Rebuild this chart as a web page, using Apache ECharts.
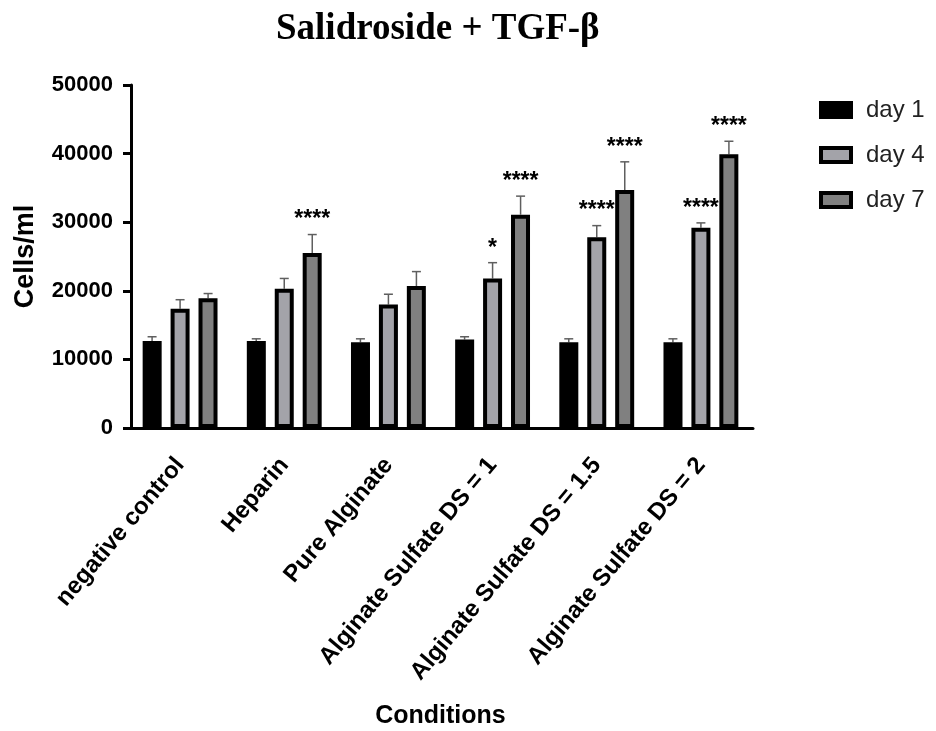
<!DOCTYPE html>
<html><head><meta charset="utf-8">
<script src="https://cdn.jsdelivr.net/npm/echarts@6/dist/echarts.min.js"></script>
<style>html,body{margin:0;padding:0;background:#fff}#c{width:936px;height:731px}</style>
</head><body><div id="c"></div>
<script>
const categories = ['negative control','Heparin','Pure Alginate','Alginate Sulfate DS = 1','Alginate Sulfate DS = 1.5','Alginate Sulfate DS = 2'];
const seriesNames = ['day 1','day 4','day 7'];
const day1 = [12700, 12700, 12500, 12900, 12500, 12500];
const day4 = [17400, 20300, 18000, 21800, 27800, 29200];
const day7 = [18900, 25500, 20700, 31100, 34700, 39900];
const day1Err = [13300, 13000, 13000, 13300, 13000, 13000];
const day4Err = [18700, 21800, 19500, 24100, 29500, 29900];
const day7Err = [19600, 28200, 22800, 33800, 38800, 41800];
const day4Stars = ['', '', '', '*', '****', '****'];
const day7Stars = ['', '****', '', '****', '****', '****'];
const yTicks = [0, 10000, 20000, 30000, 40000, 50000];

const values = [day1, day4, day7];
const errs = [day1Err, day4Err, day7Err];
const stars = [['','','','','',''], day4Stars, day7Stars];
const fills = ['#000000', '#a3a3a9', '#808080'];
const STEP = 28;

const chart = echarts.init(document.getElementById('c'));
const errData = [];
for (let s = 0; s < 3; s++) for (let i = 0; i < categories.length; i++) errData.push([i, values[s][i], errs[s][i], s, stars[s][i]]);

const bars = seriesNames.map((n, s) => ({
  name: n, type: 'bar', data: values[s], barWidth: 19, barGap: '47%',
  itemStyle: { color: fills[s], borderColor: '#000', borderWidth: 4 }, z: 3
}));

chart.setOption({
  animation: false,
  title: { text: 'Salidroside + TGF-\u03b2', left: 271, top: 6,
    textStyle: { fontFamily: 'Liberation Serif', fontWeight: 'bold', fontSize: 37, color: '#000' } },
  legend: { orient: 'vertical', left: 814, top: 93, itemWidth: 30, itemHeight: 14, itemGap: 21, icon: 'rect',
    data: seriesNames, itemStyle: { borderColor: '#000', borderWidth: 4 },
    textStyle: { fontFamily: 'Liberation Sans', fontSize: 24, color: '#222', padding: [0,0,0,10] } },
  grid: { left: 128, top: 85, width: 625, height: 343, containLabel: false, outerBoundsMode: 'none' },
  xAxis: { type: 'category', data: categories,
    axisLine: { lineStyle: { color: '#000', width: 3 } },
    axisTick: { alignWithLabel: true, length: 13, lineStyle: { color: '#000', width: 3 } },
    axisLabel: { rotate: 50, margin: 33, color: '#000', fontFamily: 'Liberation Sans', fontWeight: 'bold', fontSize: 24, interval: 0 },
    name: 'Conditions', nameLocation: 'middle', nameGap: 276,
    nameTextStyle: { fontFamily: 'Liberation Sans', fontWeight: 'bold', fontSize: 25, color: '#000' } },
  yAxis: { type: 'value', min: 0, max: 50000, interval: 10000, offset: -3,
    axisLine: { show: true, lineStyle: { color: '#000', width: 3 } },
    axisTick: { show: true, length: 8, lineStyle: { color: '#000', width: 3 } },
    splitLine: { show: false },
    axisLabel: { margin: 18, color: '#000', fontFamily: 'Liberation Sans', fontWeight: 'bold', fontSize: 22,
      formatter: function (v) { return yTicks.indexOf(v) >= 0 ? String(v) : ''; } },
    name: 'Cells/ml', nameLocation: 'middle', nameGap: 92, nameRotate: 90,
    nameTextStyle: { fontFamily: 'Liberation Sans', fontWeight: 'bold', fontSize: 27, color: '#000' } },
  series: bars.concat([{
    type: 'custom', data: errData, z: 2, silent: true,
    renderItem: function (params, api) {
      const i = api.value(0), v = api.value(1), e = api.value(2), s = api.value(3);
      const base = api.coord([i, v]);
      const top = api.coord([i, e]);
      const x = base[0] + (s - 1) * STEP;
      const children = [
        { type: 'line', shape: { x1: x, y1: base[1], x2: x, y2: top[1] }, style: { stroke: '#5f5f5f', lineWidth: 1.5 } },
        { type: 'line', shape: { x1: x - 4.5, y1: top[1], x2: x + 4.5, y2: top[1] }, style: { stroke: '#5f5f5f', lineWidth: 1.5 } }
      ];
      const st = errData[params.dataIndex][4];
      if (st) children.push({ type: 'text', x: x, y: top[1] - 3,
        style: { text: st, fill: '#000', font: 'bold 23px "Liberation Sans"', align: 'center', verticalAlign: 'bottom' } });
      return { type: 'group', children: children };
    }
  }])
});
</script></body></html>
